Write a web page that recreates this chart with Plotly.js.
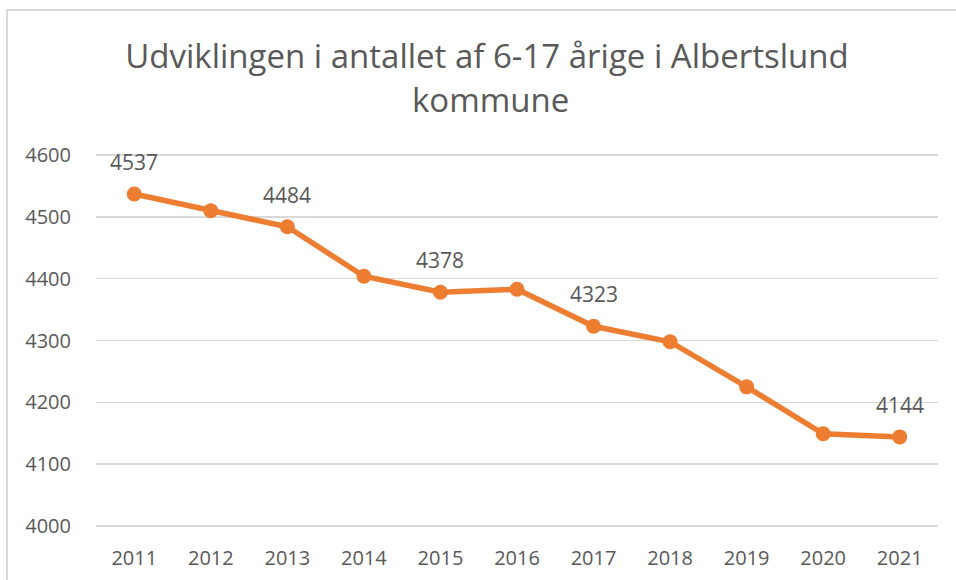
<!DOCTYPE html>
<html>
<head>
<meta charset="utf-8">
<script src="https://cdn.plot.ly/plotly-3.0.1.min.js"></script>
<style>
  html, body { margin: 0; padding: 0; background: #ffffff; }
  #chart { position: absolute; left: 0; top: 0; width: 956px; height: 580px; }
  #frame { position: absolute; left: 6px; top: 9px; width: 1000px; height: 640px;
           border-left: 2px solid #d9d9d9; border-top: 2px solid #d9d9d9; pointer-events: none; }
</style>
</head>
<body>
<div id="chart"></div>
<div id="frame"></div>
<script>
const years = ['2011','2012','2013','2014','2015','2016','2017','2018','2019','2020','2021'];
const counts = [4537, 4510, 4484, 4404, 4378, 4383, 4323, 4298, 4225, 4149, 4144];
const labelledYears = ['2011','2013','2015','2017','2021'];
const yTicks = [4000, 4100, 4200, 4300, 4400, 4500, 4600];
const titleLine1 = 'Udviklingen i antallet af 6-17 årige i Albertslund';
const titleLine2 = 'kommune';

const FONT = '"Open Sans", "Liberation Sans", sans-serif';
const ORANGE = '#ED7D31';
const GREY = '#595959';

const trace = {
  type: 'scatter',
  mode: 'lines+markers',
  x: years,
  y: counts,
  line: { color: ORANGE, width: 5.5 },
  marker: { color: ORANGE, size: 15 },
  hoverinfo: 'x+y'
};

const annotations = [];
years.forEach((yr, i) => {
  if (labelledYears.indexOf(yr) >= 0) {
    annotations.push({
      x: i, y: counts[i], xref: 'x', yref: 'y',
      text: String(counts[i]), showarrow: false, yshift: 32,
      xanchor: 'center', yanchor: 'middle',
      font: { family: FONT, size: 21, color: GREY }
    });
  }
});

// plot area: x 96..938, y 152..529 (range padded 5 units each side)
annotations.push({
  text: titleLine2, showarrow: false,
  xref: 'paper', yref: 'paper',
  x: (490 - 96) / 842, y: (529 - 100) / 377, xanchor: 'center', yanchor: 'middle',
  font: { family: FONT, size: 33, color: GREY }
});

const layout = {
  width: 956, height: 580,
  margin: { l: 96, r: 18, t: 152, b: 51 },
  paper_bgcolor: 'rgba(0,0,0,0)',
  plot_bgcolor: 'rgba(0,0,0,0)',
  showlegend: false,
  title: {
    text: titleLine1,
    x: 487 / 956, xref: 'container', xanchor: 'center',
    y: 1 - 56 / 580, yref: 'container', yanchor: 'middle',
    font: { family: FONT, size: 33, color: GREY }
  },
  xaxis: {
    type: 'category',
    range: [-0.5, 10.5],
    showgrid: false, zeroline: false, showline: false,
    ticks: 'outside', ticklen: 11, tickcolor: 'rgba(0,0,0,0)',
    tickfont: { family: FONT, size: 20, color: GREY },
    fixedrange: true
  },
  yaxis: {
    range: [3995, 4605],
    tickvals: yTicks,
    ticktext: yTicks.map(String),
    showgrid: true, gridcolor: '#d9d9d9', gridwidth: 1.5,
    zeroline: false, showline: false,
    ticks: 'outside', ticklen: 20, tickcolor: 'rgba(0,0,0,0)',
    tickfont: { family: FONT, size: 20, color: GREY },
    fixedrange: true
  },
  annotations: annotations
};

Plotly.newPlot('chart', [trace], layout, { displayModeBar: false, staticPlot: true });
</script>
</body>
</html>
